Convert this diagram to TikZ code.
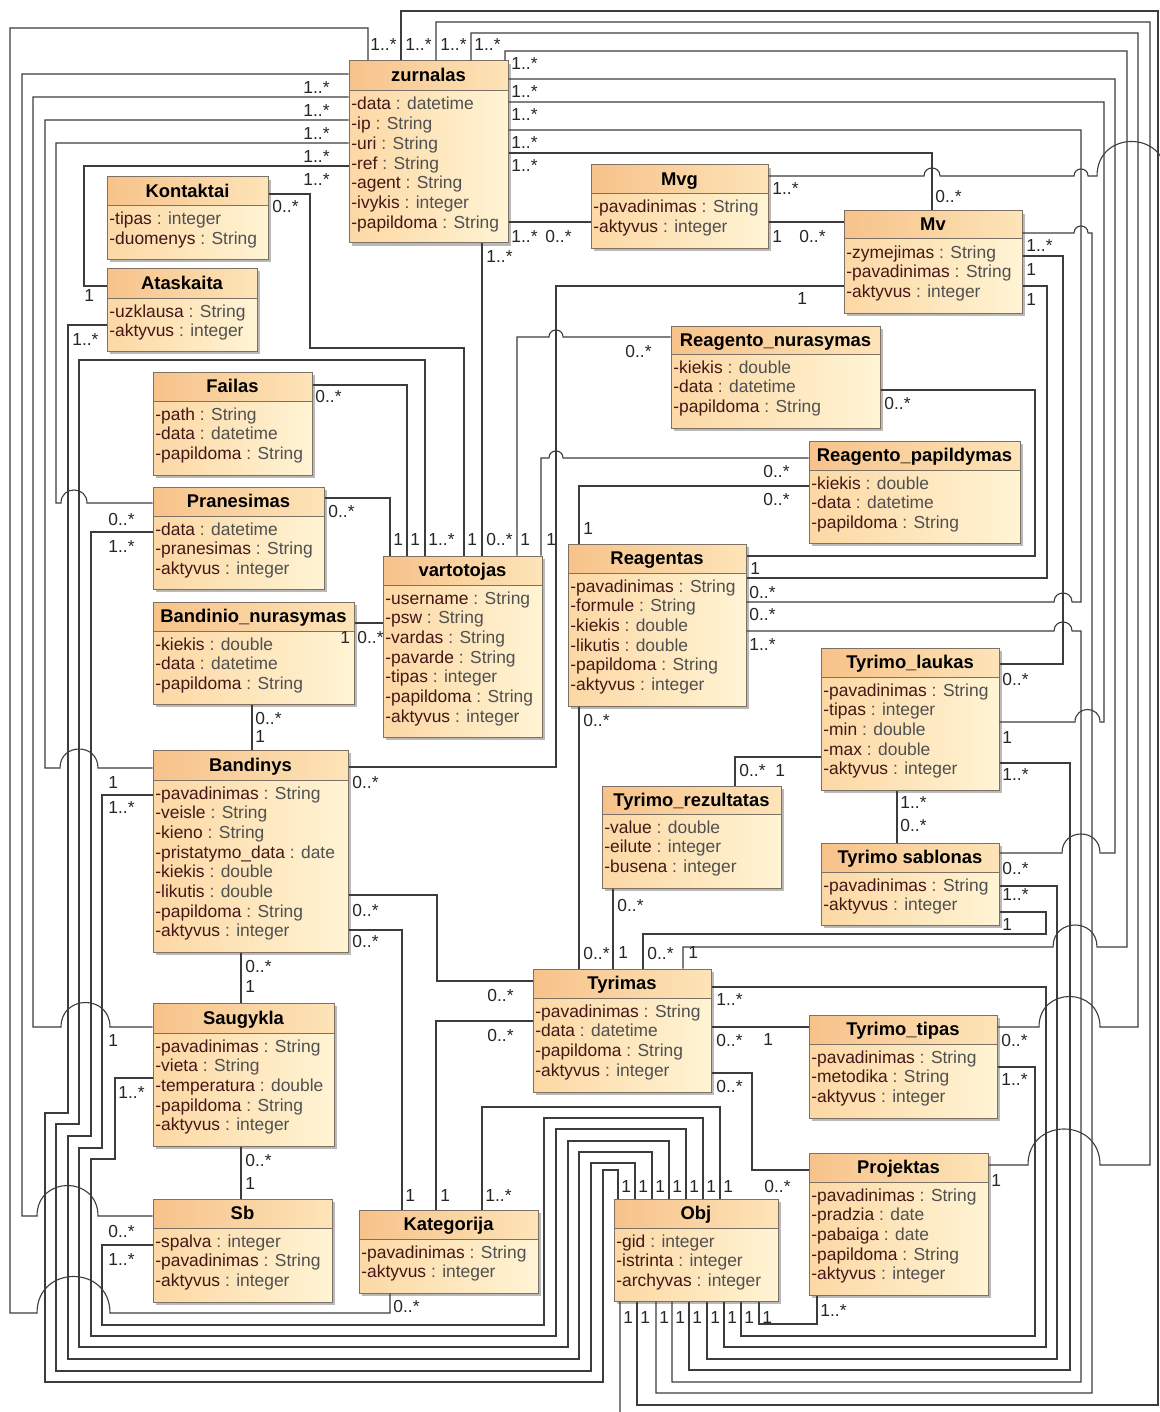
\documentclass[tikz,border=0pt]{standalone}
\usepackage{fontspec}
\setmainfont{Liberation Sans}
\usetikzlibrary{fit}

\definecolor{headL}{RGB}{247,194,138}
\definecolor{headR}{RGB}{253,228,184}
\definecolor{bodyL}{RGB}{252,216,164}
\definecolor{bodyR}{RGB}{255,244,212}
\definecolor{boxc}{RGB}{125,112,100}
\definecolor{shadowc}{RGB}{185,185,185}
\definecolor{linec}{RGB}{60,60,60}
\definecolor{namec}{RGB}{70,22,22}
\definecolor{typec}{RGB}{80,80,80}

% semicircular hop of a horizontal line over crossing verticals
\newcommand\linehop[3]{-- (#1,#3) .. controls (#1,{#3-0.667*abs(#2-#1)}) and (#2,{#3-0.667*abs(#2-#1)}) .. (#2,#3)}
\newcommand\mulM{1..*}
\newcommand\mulZ{0..*}

\tikzset{
  conn/.style={draw=linec, line width=0.55pt},
  lbl/.style={font=\fontsize{8.7}{10}\selectfont, inner sep=0pt, anchor=west, text=black!85},
  ttl/.style={font=\fontsize{9.2}{10}\selectfont\bfseries, inner sep=0pt, anchor=base},
  attr/.style={font=\fontsize{8.7}{10}\selectfont, inner sep=0pt, anchor=base west},
  frame/.style={draw=boxc, line width=0.5pt, inner sep=0pt},
}

% class box: name, x1, y1, x2, y2, header bottom, title, attributes
\newcommand\umlclass[8]{%
  \fill[shadowc] ({#2+3},{#3+3}) rectangle ({#4+3},{#5+3});
  \shade[left color=bodyL,right color=bodyR] (#2,#6) rectangle (#4,#5);
  \shade[left color=headL,right color=headR] (#2,#3) rectangle (#4,#6);
  \draw[boxc, line width=0.5pt] (#2,#6) -- (#4,#6);
  \node[frame, fit={(#2,#3) (#4,#5)}] (#1) {};
  \node[ttl] (#1-t) at ({(#2+#4)/2},{(#3+#6)/2+6}) {#7};
  \foreach \an/\at [count=\i] in {#8} {
    \node[attr] (#1-a\i) at ({#2+2},{#6+19+(\i-1)*19.7}) {\textcolor{namec}{\an} \textcolor{typec}{: \at}};
  }%
}

\begin{document}
\begin{tikzpicture}[x=0.5pt,y=-0.5pt]
\useasboundingbox (0,0) rectangle (1160,1412);
\fill[white] (0,0) rectangle (1160,1412);

% ---------- classes ----------
\umlclass{zur}{349}{61}{508}{243}{91}{zurnalas}{-data/datetime,-ip/String,-uri/String,-ref/String,-agent/String,-ivykis/integer,-papildoma/String}
\umlclass{kon}{107}{177}{268}{259}{206}{Kontaktai}{-tipas/integer,-duomenys/String}
\umlclass{ata}{107}{268}{257}{351}{298}{Ataskaita}{-uzklausa/String,-aktyvus/integer}
\umlclass{mvg}{591}{165}{768}{248}{194}{Mvg}{-pavadinimas/String,-aktyvus/integer}
\umlclass{mv}{844}{211}{1022}{313}{239}{Mv}{-zymejimas/String,-pavadinimas/String,-aktyvus/integer}
\umlclass{rnu}{671}{326}{880}{428}{354}{Reagento\_nurasymas}{-kiekis/double,-data/datetime,-papildoma/String}
\umlclass{fai}{153}{372}{312}{475}{401}{Failas}{-path/String,-data/datetime,-papildoma/String}
\umlclass{rpa}{809}{441}{1020}{543}{470}{Reagento\_papildymas}{-kiekis/double,-data/datetime,-papildoma/String}
\umlclass{pra}{153}{487}{324}{589}{516}{Pranesimas}{-data/datetime,-pranesimas/String,-aktyvus/integer}
\umlclass{rea}{568}{544}{746}{706}{573}{Reagentas}{-pavadinimas/String,-formule/String,-kiekis/double,-likutis/double,-papildoma/String,-aktyvus/integer}
\umlclass{var}{383}{556}{542}{737}{585}{vartotojas}{-username/String,-psw/String,-vardas/String,-pavarde/String,-tipas/integer,-papildoma/String,-aktyvus/integer}
\umlclass{bnu}{153}{602}{354}{704}{631}{Bandinio\_nurasymas}{-kiekis/double,-data/datetime,-papildoma/String}
\umlclass{tla}{821}{648}{999}{790}{677}{Tyrimo\_laukas}{-pavadinimas/String,-tipas/integer,-min/double,-max/double,-aktyvus/integer}
\umlclass{ban}{153}{750}{348}{952}{780}{Bandinys}{-pavadinimas/String,-veisle/String,-kieno/String,-pristatymo\_data/date,-kiekis/double,-likutis/double,-papildoma/String,-aktyvus/integer}
\umlclass{tre}{602}{786}{781}{888}{814}{Tyrimo\_rezultatas}{-value/double,-eilute/integer,-busena/integer}
\umlclass{tsa}{821}{843}{999}{925}{872}{Tyrimo sablonas}{-pavadinimas/String,-aktyvus/integer}
\umlclass{tyr}{533}{969}{711}{1092}{998}{Tyrimas}{-pavadinimas/String,-data/datetime,-papildoma/String,-aktyvus/integer}
\umlclass{sau}{153}{1003}{334}{1146}{1033}{Saugykla}{-pavadinimas/String,-vieta/String,-temperatura/double,-papildoma/String,-aktyvus/integer}
\umlclass{tti}{809}{1015}{997}{1118}{1044}{Tyrimo\_tipas}{-pavadinimas/String,-metodika/String,-aktyvus/integer}
\umlclass{pro}{809}{1153}{988}{1295}{1182}{Projektas}{-pavadinimas/String,-pradzia/date,-pabaiga/date,-papildoma/String,-aktyvus/integer}
\umlclass{sb}{153}{1199}{332}{1302}{1228}{Sb}{-spalva/integer,-pavadinimas/String,-aktyvus/integer}
\umlclass{kat}{359}{1210}{538}{1293}{1239}{Kategorija}{-pavadinimas/String,-aktyvus/integer}
\umlclass{obj}{614}{1199}{778}{1301}{1228}{Obj}{-gid/integer,-istrinta/integer,-archyvas/integer}

% ---------- zurnalas associations ----------
\draw[conn] (zur.north -| 368,0) |- (10,28) -- (10,1313) \linehop{37}{110}{1313} -| (kat.south -| 390,0);
\draw[conn] (zur.north -| 401,0) |- (1158,11) -- (1158,1405) -| (obj.south -| 637,0);
\draw[conn] (zur.north -| 436,0) |- (1150,22) -- (1150,1165) \linehop{1100}{1028}{1165} -- (pro.east |- 0,1165);
\draw[conn] (zur.north -| 471,0) |- (1138,33) -- (1138,1027) \linehop{1100}{1039}{1027} -- (tti.east |- 0,1027);
\draw[conn] (zur.north -| 505,0) |- (1127,51) -- (1127,947) \linehop{1097}{1053}{947} -| (tyr.north -| 683,0);
\draw[conn] (zur.east |- 0,79) -| (1115,853) \linehop{1100}{1062}{853} -- (tsa.east |- 0,853);
\draw[conn] (zur.east |- 0,102) -| (1104,722) \linehop{1100}{1075}{722} -- (tla.east |- 0,722);
\draw[conn] (zur.east |- 0,130) -| (1081,602) \linehop{1072}{1054}{602} -- (rea.east |- 0,602);
\draw[conn] (zur.east |- 0,153) -| (mv.north -| 932,0);
\draw[conn] (zur.east |- 0,222) -- (mvg.west |- 0,222);
\draw[conn] (zur.south -| 482,0) -- (var.north -| 482,0);
\draw[conn] (zur.west |- 0,74) -| (22,1216) \linehop{37}{98}{1216} -- (sb.west |- 0,1216);
\draw[conn] (zur.west |- 0,97) -| (33,1027) \linehop{61}{110}{1027} -- (sau.west |- 0,1027);
\draw[conn] (zur.west |- 0,120) -| (45,768) \linehop{60}{98}{768} -- (ban.west |- 0,768);
\draw[conn] (zur.west |- 0,143) -| (56,503) \linehop{61}{87}{503} -- (pra.west |- 0,503);
\draw[conn] (zur.west |- 0,166) -| (84,286) -- (ata.west |- 0,286);

% ---------- Obj associations ----------
\draw[conn] (ata.west |- 0,325) -| (68,1113) -- (45,1113) -- (45,1382) -| (603,1170) -| (obj.north -| 618,0);
\draw[conn] (var.north -| 425,0) |- (79,360) -- (79,1124) -- (56,1124) -- (56,1371) -| (591,1163) -| (obj.north -| 635,0);
\draw[conn] (pra.west |- 0,532) -| (91,1136) -- (68,1136) -- (68,1359) -| (579,1152) -| (obj.north -| 652,0);
\draw[conn] (ban.west |- 0,795) -| (102,1148) -- (79,1148) -- (79,1347) -| (568,1141) -| (obj.north -| 669,0);
\draw[conn] (sau.west |- 0,1078) -| (115,1159) -- (91,1159) -- (91,1336) -| (556,1129) -| (obj.north -| 686,0);
\draw[conn] (sb.west |- 0,1245) -| (102,1325) -| (544,1118) -| (obj.north -| 703,0);
\draw[conn] (kat.north -| 482,0) |- (720,1107) -- (obj.north -| 720,0);
\draw[conn] (tti.east |- 0,1067) -| (1035,1336) -| (obj.south -| 741,0);
\draw[conn] (tyr.east |- 0,987) -| (1046,1347) -| (obj.south -| 724,0);
\draw[conn] (tsa.east |- 0,886) -| (1057,1359) -| (obj.south -| 707,0);
\draw[conn] (tla.east |- 0,763) -| (1070,1370) -| (obj.south -| 689,0);
\draw[conn] (rea.east |- 0,631) \linehop{1054}{1072}{631} -| (1081,1382) -| (obj.south -| 672,0);
\draw[conn] (mv.east |- 0,233) \linehop{1074}{1088}{233} -| (1092,1393) -| (obj.south -| 656,0);
\draw[conn] (pro.south -| 817,0) |- (759,1324) -- (obj.south -| 759,0);
\draw[conn] (obj.south -| 620,0) -- (620,1440) -- (1190,1440) -- (1190,176) \linehop{1166}{1097}{176} \linehop{1088}{1074}{176} \linehop{940}{924}{176} -- (mvg.east |- 0,176);

% ---------- other associations ----------
\draw[conn] (kon.east |- 0,194) -| (310,348) -| (var.north -| 464,0);
\draw[conn] (fai.east |- 0,385) -| (var.north -| 407,0);
\draw[conn] (pra.east |- 0,498) -| (var.north -| 390,0);
\draw[conn] (bnu.east |- 0,623) -- (var.west |- 0,623);
\draw[conn] (var.north -| 517,0) -- (517,337) \linehop{549}{563}{337} -- (rnu.west |- 0,337);
\draw[conn] (var.north -| 541,0) -- (541,458) \linehop{549}{563}{458} -- (rpa.west |- 0,458);
\draw[conn] (rea.north -| 579,0) |- (rpa.west |- 0,486);
\draw[conn] (rnu.east |- 0,390) -| (1035,556) -- (rea.east |- 0,556);
\draw[conn] (mv.east |- 0,286) -| (1047,578) -- (rea.east |- 0,578);
\draw[conn] (mv.east |- 0,256) -| (1063,664) -- (tla.east |- 0,664);
\draw[conn] (mvg.east |- 0,222) -- (mv.west |- 0,222);
\draw[conn] (mv.west |- 0,286) -| (556,767) -- (ban.east |- 0,767);
\draw[conn] (bnu.south -| 252,0) -- (ban.north -| 252,0);
\draw[conn] (ban.south -| 241,0) -- (sau.north -| 241,0);
\draw[conn] (sau.south -| 241,0) -- (sb.north -| 241,0);
\draw[conn] (ban.east |- 0,930) -| (kat.north -| 402,0);
\draw[conn] (ban.east |- 0,895) -| (437,981) -- (tyr.west |- 0,981);
\draw[conn] (tyr.west |- 0,1021) -| (kat.north -| 436,0);
\draw[conn] (rea.south -| 579,0) -- (tyr.north -| 579,0);
\draw[conn] (tre.south -| 613,0) -- (tyr.north -| 613,0);
\draw[conn] (tre.north -| 735,0) |- (tla.west |- 0,757);
\draw[conn] (tla.south -| 897,0) -- (tsa.north -| 897,0);
\draw[conn] (tsa.east |- 0,912) -| (1046,934) -| (tyr.north -| 643,0);
\draw[conn] (tyr.east |- 0,1027) -- (tti.west |- 0,1027);
\draw[conn] (tyr.east |- 0,1073) -| (752,1170) -- (pro.west |- 0,1170);

% ---------- multiplicities ----------
\foreach \x/\y/\t [count=\i] in {
  370/45/\mulM, 405/45/\mulM, 440/45/\mulM, 474/45/\mulM,
  511/64/\mulM, 511/92/\mulM, 511/115/\mulM, 511/143/\mulM, 511/166/\mulM,
  303/88/\mulM, 303/111/\mulM, 303/134/\mulM, 303/157/\mulM, 303/180/\mulM,
  511/237/\mulM, 545/237/\mulZ, 486/257/\mulM,
  772/189/\mulM, 772/237/1, 799/237/\mulZ, 935/197/\mulZ, 797/299/1,
  1026/246/\mulM, 1026/270/1, 1026/300/1,
  272/207/\mulZ, 84/296/1, 72/340/\mulM, 315/397/\mulZ,
  625/352/\mulZ, 884/404/\mulZ, 763/472/\mulZ, 763/500/\mulZ,
  328/512/\mulZ, 108/520/\mulZ, 108/547/\mulM,
  393/540/1, 410/540/1, 428/540/\mulM, 467/540/1, 486/540/\mulZ, 520/540/1, 546/540/1,
  583/529/1, 750/569/1, 749/593/\mulZ, 749/615/\mulZ, 749/645/\mulM, 583/721/\mulZ,
  340/638/1, 357/638/\mulZ, 255/719/\mulZ, 255/737/1,
  1002/680/\mulZ, 1002/738/1, 1002/775/\mulM, 739/771/\mulZ, 775/771/1, 900/803/\mulM, 900/826/\mulZ,
  108/783/1, 108/808/\mulM, 352/783/\mulZ, 352/910/\mulZ, 352/941/\mulZ, 245/966/\mulZ, 245/987/1,
  617/905/\mulZ, 1002/868/\mulZ, 1002/895/\mulM, 1002/925/1,
  583/953/\mulZ, 618/953/1, 647/953/\mulZ, 688/953/1,
  487/995/\mulZ, 487/1035/\mulZ, 716/1000/\mulM, 716/1040/\mulZ, 763/1040/1, 716/1086/\mulZ,
  1001/1040/\mulZ, 1001/1080/\mulM,
  108/1041/1, 118/1093/\mulM, 245/1160/\mulZ, 245/1183/1,
  764/1186/\mulZ, 991/1180/1, 820/1310/\mulM,
  405/1195/1, 440/1195/1, 485/1195/\mulM, 393/1306/\mulZ,
  621/1186/1, 638/1186/1, 655/1186/1, 672/1186/1, 689/1186/1, 706/1186/1, 723/1186/1,
  623/1317/1, 640/1317/1, 659/1317/1, 675/1317/1, 692/1317/1, 710/1317/1, 727/1317/1, 744/1317/1, 762/1317/1,
  108/1231/\mulZ, 108/1259/\mulM}
  { \node[lbl] (m\i) at (\x,\y) {\t}; }
\end{tikzpicture}
\end{document}
